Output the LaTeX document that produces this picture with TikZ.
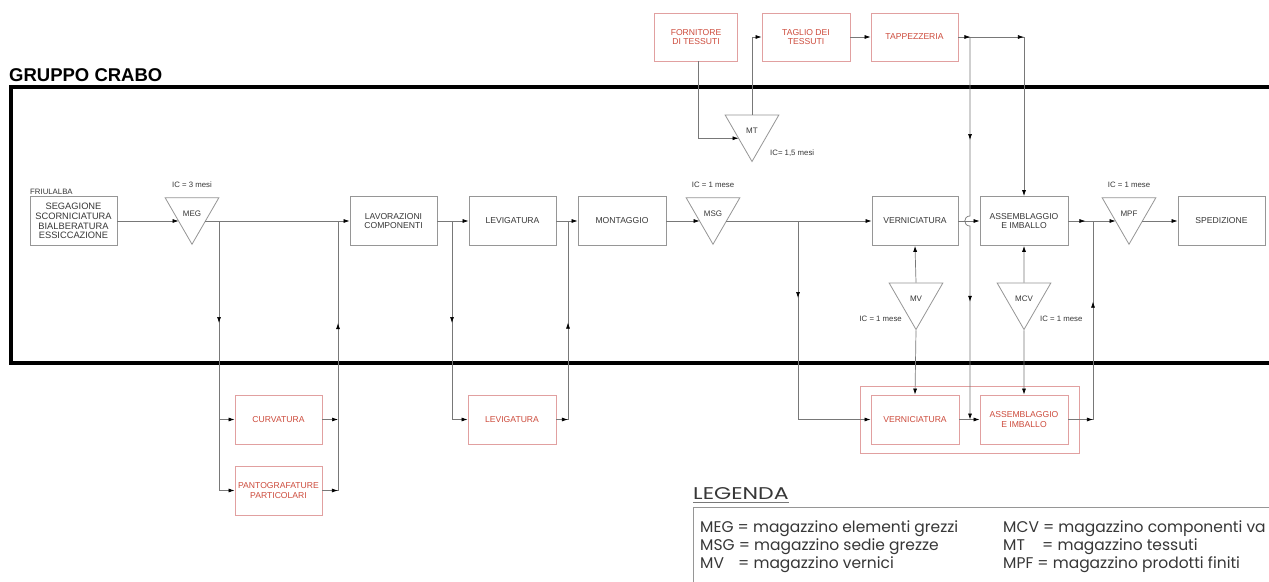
\documentclass[tikz,border=0pt]{standalone}
\usepackage{fontspec}
\usepackage{graphicx}
\setmainfont{Liberation Sans}
\newfontfamily\legfont{Poppins}
\usetikzlibrary{arrows.meta,shapes.geometric,decorations.markings,calc}
\definecolor{linegray}{RGB}{120,120,120}
\definecolor{boxgray}{RGB}{150,150,150}
\definecolor{txtgray}{RGB}{55,55,55}
\definecolor{redtxt}{RGB}{205,75,60}
\definecolor{redbox}{RGB}{225,160,160}
\begin{document}
\begin{tikzpicture}[x=1pt,y=-1pt,
  every node/.style={inner sep=0pt},
  box/.style={draw=boxgray, line width=0.8pt, minimum width=87pt, minimum height=49pt, align=center, font=\fontsize{8.6}{9.7}\selectfont, text=txtgray},
  rbox/.style={box, draw=redbox, text=redtxt},
  tri/.style={draw=boxgray, line width=0.8pt, regular polygon, regular polygon sides=3, shape border rotate=180, minimum size=62pt, font=\fontsize{8}{9.5}\selectfont, text=txtgray},
  conn/.style={draw=linegray, line width=0.7pt},
  tip/.style={-{Latex[length=6pt,width=4pt,color=black]}},
  ma/.style={postaction={decorate,decoration={markings,mark=at position #1 with {\arrow{Latex[length=6pt,width=4pt,color=black]}}}}},
  ic/.style={font=\fontsize{7.8}{9}\selectfont, text=txtgray},
  leg/.style={anchor=base west, font=\legfont\fontsize{15.5}{16}\selectfont, text=txtgray},
]
\useasboundingbox (0,0) rectangle (1269,581);
\clip (0,0) rectangle (1269,581);
\fill[white] (0,0) rectangle (1269,581);

% frame
\draw[line width=4.5pt] (11,87) rectangle (1300,363);
\node[anchor=base west, font=\bfseries\fontsize{18.5}{20}\selectfont] (title) at (9,81) {GRUPPO CRABO};

% main row
\node[box, font=\fontsize{9.3}{9.7}\selectfont] (FR) at (73.5,221) {SEGAGIONE\\SCORNICIATURA\\BIALBERATURA\\ESSICCAZIONE};
\node[anchor=base west, ic] (frl) at (30,194) {FRIULALBA};
\node[tri] (MEG) at (192,213.25) {MEG};
\node[ic] (icMEG) at (192,185) {IC = 3 mesi};
\node[box] (LAV) at (393.5,221) {LAVORAZIONI\\COMPONENTI};
\node[box] (LEV) at (512.5,221) {LEVIGATURA};
\node[box, minimum width=88pt] (MON) at (622,221) {MONTAGGIO};
\node[tri] (MSG) at (713,213.25) {MSG};
\node[ic] (icMSG) at (713,185) {IC = 1 mese};
\node[box, minimum width=86pt] (VER) at (915,221) {VERNICIATURA};
\node[box, minimum width=88pt] (ASS) at (1024,221) {ASSEMBLAGGIO\\E IMBALLO};
\node[tri] (MPF) at (1129,213.25) {MPF};
\node[ic] (icMPF) at (1129,185) {IC = 1 mese};
\node[box] (SPE) at (1221.5,221) {SPEDIZIONE};

% warehouses below
\node[tri] (MV) at (916,298.5) {MV};
\node[ic, anchor=east] (icMV) at (902,319) {IC = 1 mese};
\node[tri] (MCV) at (1024,298.5) {MCV};
\node[ic, anchor=west] (icMCV) at (1040,319) {IC = 1 mese};

% top
\node[rbox, minimum width=83pt, minimum height=48pt] (FOR) at (696,37) {FORNITORE\\DI TESSUTI};
\node[rbox, minimum width=88pt, minimum height=48pt] (TAG) at (806,37) {TAGLIO DEI\\TESSUTI};
\node[rbox, minimum height=48pt] (TAP) at (914.5,37) {TAPPEZZERIA};
\node[tri] (MT) at (752,130.5) {MT};
\node[ic, anchor=west] (icMT) at (770,153) {IC= 1,5 mesi};

% external red boxes
\node[rbox] (CURV) at (278.5,419.5) {CURVATURA};
\node[rbox] (PANT) at (278.5,490.5) {PANTOGRAFATURE\\PARTICOLARI};
\node[rbox, minimum width=88pt] (LEVr) at (512,419.5) {LEVIGATURA};
\node[draw=redbox, line width=0.8pt, minimum width=219pt, minimum height=67pt] (grp) at (969.5,419.5) {};
\node[rbox, minimum width=88pt] (VERr) at (915,419.5) {VERNICIATURA};
\node[rbox, minimum width=88pt] (ASSr) at (1024,419.5) {ASSEMBLAGGIO\\E IMBALLO};

% junctions
\coordinate (j1) at (219,221);
\coordinate (j2) at (338,221);
\coordinate (j3) at (452,221);
\coordinate (j4) at (568,221);
\coordinate (j5) at (798,221);
\coordinate (j6) at (1093,221);
\coordinate (k1) at (970,37);

% main connectors
\draw[conn,tip] (FR.east) -- ($(MEG.center)+(-13.4,7.75)$);
\draw[conn,tip] ($(MEG.center)+(13.4,7.75)$) -- (LAV.west);
\draw[conn,tip] (LAV.east) -- (LEV.west);
\draw[conn,tip] (LEV.east) -- (MON.west);
\draw[conn,tip] (MON.east) -- ($(MSG.center)+(-13.4,7.75)$);
\draw[conn,tip] ($(MSG.center)+(13.4,7.75)$) -- (VER.west);
\draw[conn,tip] (VER.east) -- (ASS.west);
\draw[conn,tip,ma=17pt] (ASS.east) -- ($(MPF.center)+(-13.4,7.75)$);
\draw[conn,tip] ($(MPF.center)+(13.4,7.75)$) -- (SPE.west);

% curvatura / pantografature loop
\draw[conn,tip,ma=102pt] (j1) |- (PANT.west);
\draw[conn,tip] (j1 |- CURV.west) -- (CURV.west);
\draw[conn,tip] (CURV.east) -- (CURV.east -| j2);
\draw[conn,ma=15.5pt,ma=183pt] (PANT.east) -| (j2);

% levigatura loop
\draw[conn,tip,ma=102pt] (j3) |- (LEVr.west);
\draw[conn,ma=11.5pt,ma=108.5pt] (LEVr.east) -| (j4);

% verniciatura / assemblaggio external
\draw[conn,tip,ma=77pt] (j5) |- (VERr.west);
\draw[conn,tip] (VERr.east) -- (ASSr.west);
\draw[conn,ma=24.5pt,ma=142.5pt] (ASSr.east) -| (j6);

% warehouses MV, MCV
\draw[conn,tip] (MV.north) -- (VER.south);
\draw[conn,tip] (MV.south) -- (VERr.north);
\draw[conn,tip] (MCV.north) -- (ASS.south);
\draw[conn,tip] (MCV.south) -- (ASSr.north);

% fabric supply chain
\draw[conn,tip] ([xshift=2pt]FOR.south) |- ($(MT.center)+(-13.4,7.75)$);
\draw[conn,tip] (MT.north) |- (TAG.west);
\draw[conn,tip] (TAG.east) -- (TAP.west);
\draw[conn,tip,ma=12pt,ma=65.5pt] (TAP.east) -| (ASS.north);
\draw[conn,tip,ma=103pt,ma=271pt] (k1) -- (970,216) .. controls (963,216) and (963,226) .. (970,226) -- (k1 |- VERr.east);

% legend
\node[anchor=base west, font=\legfont\fontsize{17}{18}\selectfont, text=txtgray] (legt) at (693,499) {\scalebox{1.3}[1]{LEGENDA}};
\draw[linegray, line width=1pt] ([yshift=-3pt]legt.base west) -- ([yshift=-3pt]legt.base east);
\draw[boxgray, line width=1pt] (1300,507) -- (693,507) -- (693,600);
\node[leg] (l1) at (700,532) {MEG = magazzino elementi grezzi};
\node[leg] (l2) at (700,550) {MSG = magazzino sedie grezze};
\node[leg] (l3) at (700,568) {\makebox[38pt][l]{MV}= magazzino vernici};
\node[leg] (r1) at (1003,532) {MCV = magazzino componenti va};
\node[leg] (r2) at (1003,550) {\makebox[39pt][l]{MT}= magazzino tessuti};
\node[leg] (r3) at (1003,568) {MPF = magazzino prodotti finiti};
\end{tikzpicture}
\end{document}
